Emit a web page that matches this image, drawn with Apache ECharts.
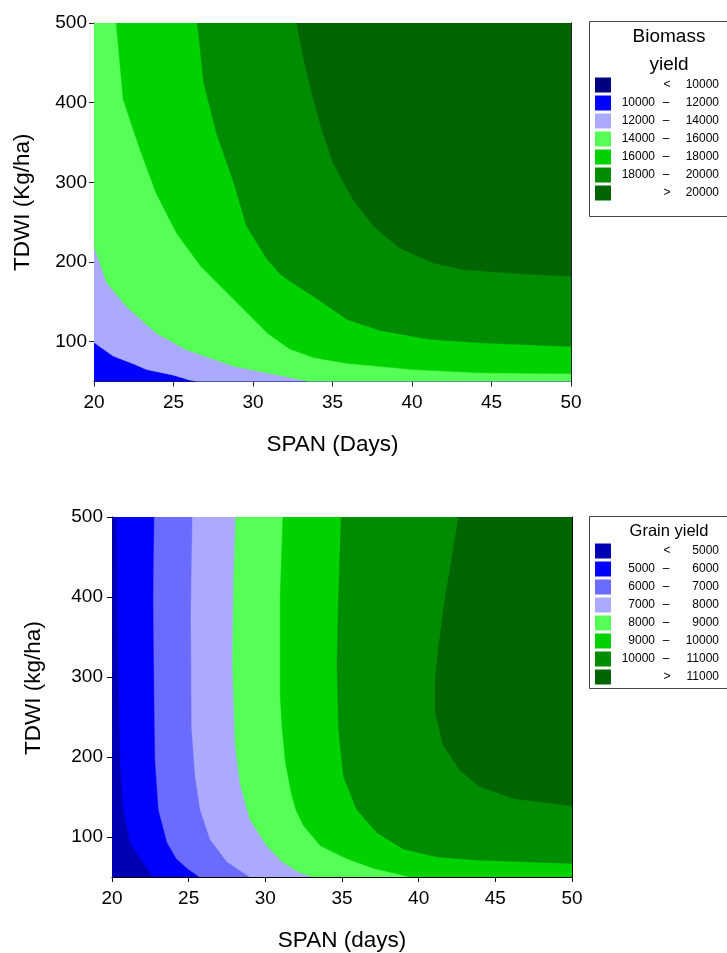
<!DOCTYPE html>
<html>
<head>
<meta charset="utf-8">
<script src="https://cdn.jsdelivr.net/npm/echarts@6/dist/echarts.min.js"></script>
<style>
html,body{margin:0;padding:0;background:#fff;}
#c{width:727px;height:953px;}
</style>
</head>
<body>
<div id="c"></div>
<script>
// ---------- Axis ranges / ticks ----------
const xTicks = [20, 25, 30, 35, 40, 45, 50];
const yTicks = [100, 200, 300, 400, 500];

// ---------- Top chart: Biomass yield ----------
const biomassLegend = ['< 10000', '10000 – 12000', '12000 – 14000', '14000 – 16000', '16000 – 18000', '18000 – 20000', '> 20000'];
const biomassColors = ['#000080', '#0000ff', '#aaaaff', '#55ff55', '#00d200', '#008c00', '#006400'];
// contour boundaries (SPAN, TDWI), each separating a class from the next higher one
const biomassB12000 = [[20, 99], [21.2, 82], [22.5, 72], [23.3, 65], [25, 58], [26, 52], [26.5, 50]];
const biomassB14000 = [[20, 220], [20.8, 174], [22.05, 144], [23.9, 111], [25.8, 90], [28.8, 69], [31.9, 57], [33.5, 50]];
const biomassB16000 = [[21.4, 500], [21.84, 404], [22.9, 341], [23.9, 287], [25.2, 236], [26.7, 195], [28.8, 153], [30.9, 111], [32.3, 91], [33.8, 80], [35.9, 73], [40.1, 65], [44.3, 61], [50, 60]];
const biomassB18000 = [[26.5, 500], [26.9, 425], [27.7, 362], [28.8, 299], [29.6, 245], [30.9, 203], [31.7, 185], [32.3, 176], [33.8, 157], [35.9, 128], [38, 114], [41.1, 103], [44.3, 98.5], [50, 94]];
const biomassB20000 = [[32.75, 500], [33.2, 454], [33.8, 404], [34.4, 362], [35.05, 324], [36.3, 278], [37.6, 245], [39.2, 218], [41.3, 199], [43.2, 190.5], [46.4, 186], [50, 182]];

// ---------- Bottom chart: Grain yield ----------
const grainLegend = ['< 5000', '5000 – 6000', '6000 – 7000', '7000 – 8000', '8000 – 9000', '9000 – 10000', '10000 – 11000', '> 11000'];
const grainColors = ['#0000b4', '#0000ff', '#6b6bff', '#aaaaff', '#55ff55', '#00d200', '#008c00', '#006400'];
const grainB5000 = [[20.3, 500], [20.43, 317], [20.54, 195], [20.76, 134], [21.2, 93], [21.85, 73], [22.7, 50]];
const grainB6000 = [[22.76, 500], [22.7, 399], [22.76, 277], [22.82, 195], [23.04, 134], [23.6, 93], [24.2, 73], [24.9, 61], [25.7, 50]];
const grainB7000 = [[25.25, 500], [25.15, 378], [25.2, 236], [25.43, 175], [25.76, 134], [26.4, 97], [27.5, 69], [29, 50]];
const grainB8000 = [[28.08, 500], [27.93, 419], [27.86, 317], [28.04, 215], [28.36, 167], [29, 122], [30.1, 89], [31.1, 69], [32.1, 57], [33.1, 50]];
const grainB9000 = [[31.15, 500], [30.97, 400], [30.97, 277], [31.1, 236], [31.3, 195], [31.7, 154], [32.0, 134], [32.5, 114], [33.6, 89], [35.3, 73], [37.05, 61], [38.8, 53], [39.4, 50]];
const grainB10000 = [[34.95, 500], [34.77, 399], [34.67, 317], [34.77, 236], [35.1, 175], [35.97, 134], [37.3, 105], [39, 85], [41.2, 75], [44, 71], [50, 67]];
const grainB11000 = [[42.6, 500], [42.27, 460], [41.73, 399], [41.3, 338], [41.08, 297], [41.08, 256], [41.6, 215], [42.7, 183], [44, 163], [46.2, 148], [50, 139]];

const X_MIN = 20, X_MAX = 50, Y_MIN = 50, Y_MAX = 500;

// region above/right of a boundary, closed along the plot frame
function regionOf(b) {
  const pts = b.slice();
  const last = b[b.length - 1], first = b[0];
  if (last[1] === Y_MIN && last[0] < X_MAX) pts.push([X_MAX, Y_MIN]);
  pts.push([X_MAX, Y_MAX]);
  if (first[0] === X_MIN && first[1] < Y_MAX) pts.push([X_MIN, Y_MAX]);
  return pts;
}
const fullRect = [[X_MIN, Y_MIN], [X_MAX, Y_MIN], [X_MAX, Y_MAX], [X_MIN, Y_MAX]];

const topPolys = [fullRect, regionOf(biomassB12000), regionOf(biomassB14000), regionOf(biomassB16000), regionOf(biomassB18000), regionOf(biomassB20000)];
const topFill = [biomassColors[1], biomassColors[2], biomassColors[3], biomassColors[4], biomassColors[5], biomassColors[6]];
const botPolys = [fullRect, regionOf(grainB5000), regionOf(grainB6000), regionOf(grainB7000), regionOf(grainB8000), regionOf(grainB9000), regionOf(grainB10000), regionOf(grainB11000)];
const botFill = grainColors.slice();

function contourSeries(polys, fills, xi, yi) {
  return {
    type: 'custom',
    xAxisIndex: xi, yAxisIndex: yi,
    clip: true,
    silent: true,
    data: polys.map((p, i) => ({ value: [p[0][0], p[0][1]], idx: i })),
    renderItem: function (params, api) {
      const poly = polys[params.dataIndex];
      return {
        type: 'polygon',
        shape: { points: poly.map(p => api.coord(p)) },
        style: { fill: fills[params.dataIndex], stroke: fills[params.dataIndex], lineWidth: 0.5 }
      };
    }
  };
}

const FONT = 'Liberation Sans';
const tickFont = { fontFamily: FONT, fontSize: 19, color: '#000' };
const titleFont = { fontFamily: FONT, fontSize: 22.5, color: '#000' };

function xAxes(grid, lineColor, labelMargin) {
  return [
    { type: 'value', gridIndex: grid, position: 'bottom', min: X_MIN, max: X_MAX, interval: 5,
      axisLine: { show: true, onZero: false, lineStyle: { color: lineColor, width: 1 } },
      axisTick: { show: true, inside: false, length: 5, lineStyle: { color: lineColor } },
      axisLabel: Object.assign({ margin: labelMargin }, tickFont),
      splitLine: { show: false } },
    { type: 'value', gridIndex: grid, position: 'top', min: X_MIN, max: X_MAX, interval: 5,
      axisLine: { show: true, onZero: false, lineStyle: { color: lineColor, width: 1 } },
      axisTick: { show: false }, axisLabel: { show: false }, splitLine: { show: false } }
  ];
}

const option = {
  backgroundColor: '#fff',
  animation: false,
  grid: [
    { left: 94, top: 23, width: 477, height: 358.5, show: false },
    { left: 112, top: 517, width: 460, height: 368.5, show: false }
  ],
  xAxis: [].concat(xAxes(0, '#222', 12), xAxes(1, '#000', 12)).map((a, i) => {
    if (i === 0) { a.name = 'SPAN (Days)'; a.nameLocation = 'middle'; a.nameGap = 52; a.nameTextStyle = titleFont; }
    if (i === 2) { a.name = 'SPAN (days)'; a.nameLocation = 'middle'; a.nameGap = 52; a.nameTextStyle = titleFont; }
    return a;
  }),
  yAxis: [
    { type: 'value', gridIndex: 0, position: 'left', min: Y_MIN, max: Y_MAX,
      name: 'TDWI (Kg/ha)', nameLocation: 'middle', nameGap: 60, nameRotate: 90,
      nameTextStyle: titleFont,
      axisLine: { show: true, onZero: false, lineStyle: { color: '#222' } },
      axisTick: { show: true, length: 5, customValues: yTicks, lineStyle: { color: '#222' } },
      axisLabel: Object.assign({ margin: 7, customValues: yTicks }, tickFont),
      splitLine: { show: false } },
    { type: 'value', gridIndex: 0, position: 'right', min: Y_MIN, max: Y_MAX,
      axisLine: { show: true, onZero: false, lineStyle: { color: '#222' } },
      axisTick: { show: false }, axisLabel: { show: false }, splitLine: { show: false } },
    { type: 'value', gridIndex: 1, position: 'left', min: Y_MIN, max: Y_MAX,
      name: 'TDWI (kg/ha)', nameLocation: 'middle', nameGap: 67, nameRotate: 90,
      nameTextStyle: Object.assign({ padding: [0, 0, 0, 18] }, titleFont),
      axisLine: { show: true, onZero: false, lineStyle: { color: '#000' } },
      axisTick: { show: true, length: 5, customValues: yTicks, lineStyle: { color: '#000' } },
      axisLabel: Object.assign({ margin: 9, customValues: yTicks }, tickFont),
      splitLine: { show: false } },
    { type: 'value', gridIndex: 1, position: 'right', min: Y_MIN, max: Y_MAX, interval: 25,
      axisLine: { show: true, onZero: false, lineStyle: { color: '#000' } },
      axisTick: { show: true, inside: true, length: 3, lineStyle: { color: '#000' } },
      axisLabel: { show: false }, splitLine: { show: false } },
    { type: 'value', gridIndex: 1, position: 'left', min: Y_MIN, max: Y_MAX, interval: 25,
      axisLine: { show: false },
      axisTick: { show: true, inside: true, length: 3, lineStyle: { color: '#000' } },
      axisLabel: { show: false }, splitLine: { show: false } }
  ],
  series: [
    contourSeries(topPolys, topFill, 0, 0),
    contourSeries(botPolys, botFill, 2, 2)
  ],
  graphic: []
};

// ---------- Legend boxes (graphic) ----------
function legendBox(x, y, w, h, titleLines, titleSize, titleY, labels, colors, rowY0) {
  const els = [];
  els.push({ type: 'rect', shape: { x: x + 0.5, y: y + 0.5, width: w, height: h }, style: { fill: '#fff', stroke: '#444', lineWidth: 1 }, z: 10 });
  titleLines.forEach((t, i) => {
    els.push({ type: 'text', x: x + 80, y: titleY[i], style: { text: t, fontFamily: FONT, fontSize: titleSize, fill: '#000', align: 'center', verticalAlign: 'middle' }, z: 11 });
  });
  labels.forEach((lab, i) => {
    const cy = rowY0 + i * 18;
    els.push({ type: 'rect', shape: { x: x + 6, y: cy - 7.5, width: 16, height: 15 }, style: { fill: colors[i] }, z: 11 });
    const parts = lab.split(' ');
    const ts = { fontFamily: FONT, fontSize: 12, fill: '#000', verticalAlign: 'middle' };
    if (parts.length === 2) {
      els.push({ type: 'text', x: x + 78, y: cy, style: Object.assign({ text: parts[0], align: 'center' }, ts), z: 11 });
      els.push({ type: 'text', x: x + 130, y: cy, style: Object.assign({ text: parts[1], align: 'right' }, ts), z: 11 });
    } else {
      els.push({ type: 'text', x: x + 66, y: cy, style: Object.assign({ text: parts[0], align: 'right' }, ts), z: 11 });
      els.push({ type: 'text', x: x + 77, y: cy, style: Object.assign({ text: parts[1], align: 'center' }, ts), z: 11 });
      els.push({ type: 'text', x: x + 130, y: cy, style: Object.assign({ text: parts[2], align: 'right' }, ts), z: 11 });
    }
  });
  return els;
}
option.graphic = [].concat(
  legendBox(589, 21, 140, 195, ['Biomass', 'yield'], 19, [37, 65], biomassLegend, biomassColors, 85),
  legendBox(589, 516, 140, 172, ['Grain yield'], 16.5, [531], grainLegend, grainColors, 551)
);

const chart = echarts.init(document.getElementById('c'), null, { renderer: 'canvas' });
chart.setOption(option);
</script>
</body>
</html>
